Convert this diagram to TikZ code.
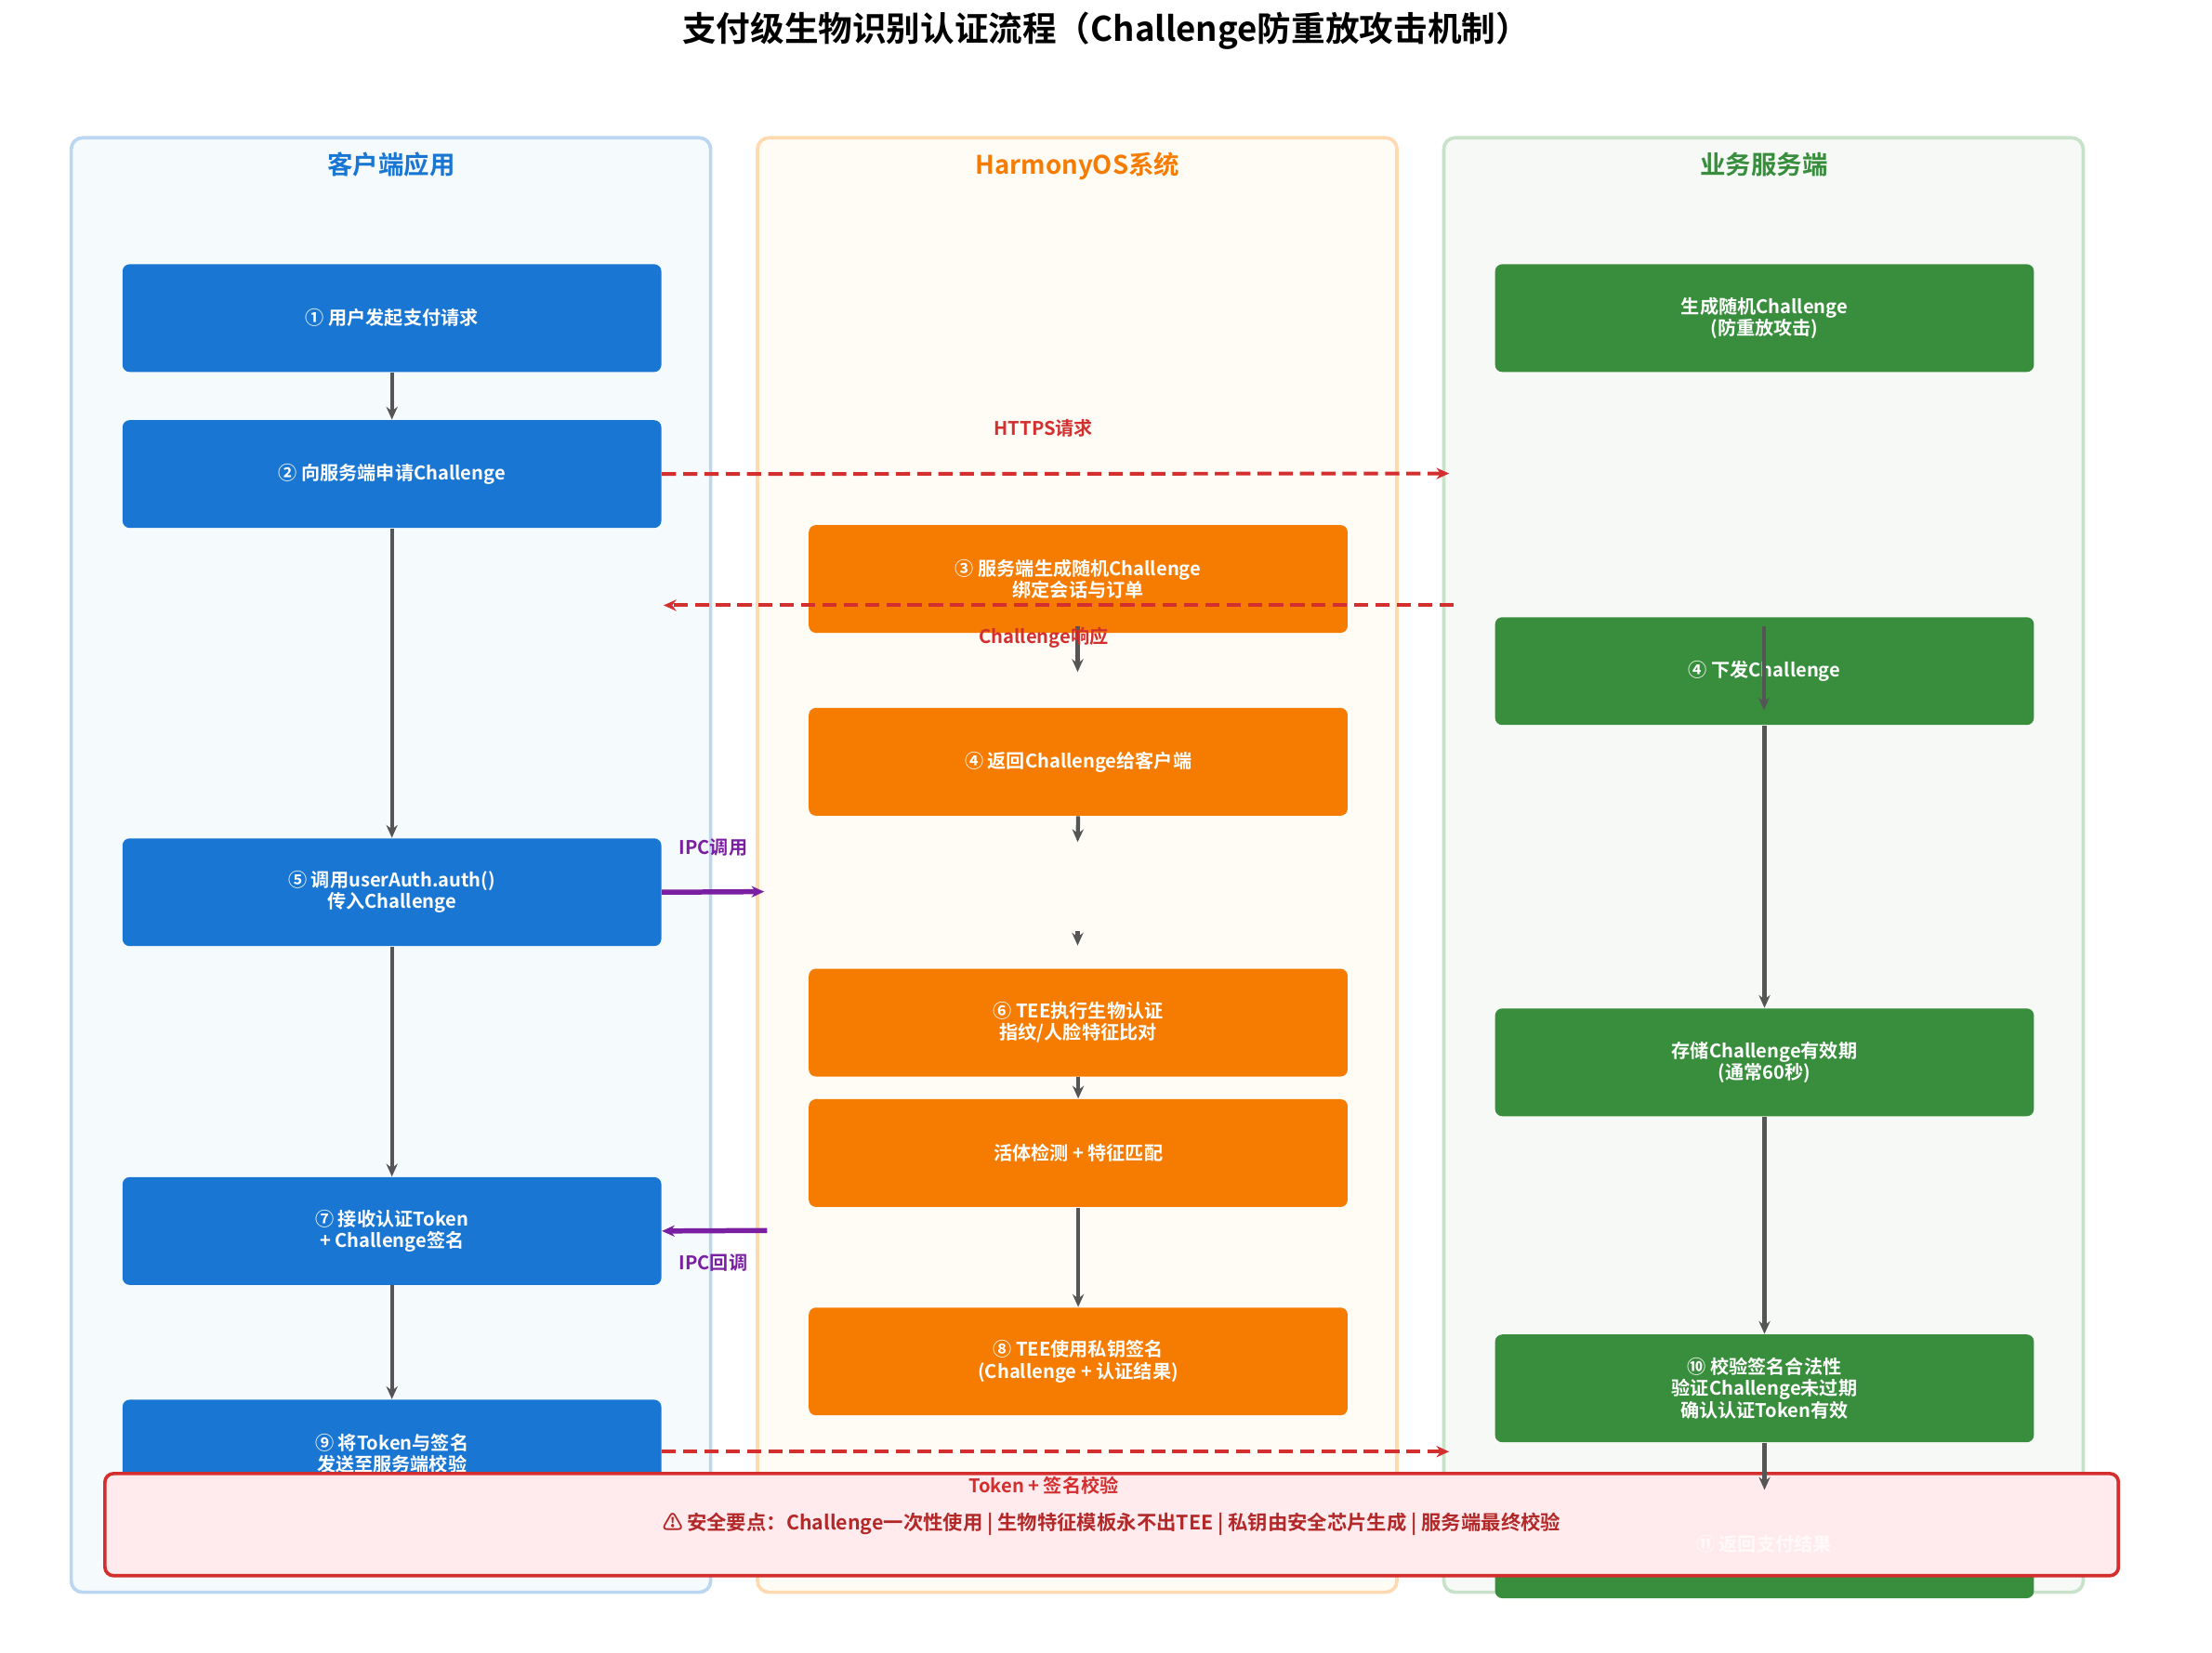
\documentclass[tikz,border=0pt]{standalone}
\usepackage{fontspec}
\setmainfont{Noto Sans CJK SC}[BoldFont={Noto Sans CJK SC Bold}]
\usetikzlibrary{arrows.meta}
\definecolor{cblue}{HTML}{1976D2}
\definecolor{corange}{HTML}{F57C00}
\definecolor{cgreen}{HTML}{388E3C}
\definecolor{cred}{HTML}{D32F2F}
\definecolor{cpurple}{HTML}{7B1FA2}
\definecolor{cgray}{HTML}{555555}
\tikzset{
  lane/.style={draw, line width=1.2pt, rounded corners=4pt, minimum width=225.5pt, minimum height=513pt, anchor=north west},
  stepbox/.style={rounded corners=2.5pt, minimum width=190pt, minimum height=38pt, text=white, font=\bfseries\fontsize{6.6}{7.6}\selectfont, align=center, anchor=north west},
  flow/.style={cgray, line width=1.4pt, -{Stealth[length=4.5pt,width=4pt]}},
  msg/.style={cred, line width=1.3pt, dash pattern=on 5pt off 2.5pt, -{Stealth[length=4.5pt,width=4pt]}},
  ipc/.style={cpurple, line width=1.8pt, -{Stealth[length=4.5pt,width=4pt]}},
  tag/.style={font=\bfseries\fontsize{6.6}{7.6}\selectfont}
}
\begin{document}
\begin{tikzpicture}[x=0.5pt,y=0.5pt,yscale=-1]
\useasboundingbox (0,0) rectangle (1560,1166);
\node[font=\bfseries\fontsize{12}{14}\selectfont] (title) at (780,22) {支付级生物识别认证流程（Challenge防重放攻击机制）};
% lanes
\node[lane, draw={rgb,255:red,187;green,214;blue,240}, fill={rgb,255:red,245;green,250;blue,253}] (client) at (49,96) {};
\node[lane, draw={rgb,255:red,255;green,218;blue,176}, fill={rgb,255:red,255;green,251;blue,245}] (harmony) at (533,96) {};
\node[lane, draw={rgb,255:red,200;green,226;blue,201}, fill={rgb,255:red,247;green,249;blue,247}] (server) at (1017,96) {};
\node[font=\bfseries\fontsize{9}{11}\selectfont, text=cblue] at (276,116) {客户端应用};
\node[font=\bfseries\fontsize{9}{11}\selectfont, text=corange] at (760,117) {HarmonyOS系统};
\node[font=\bfseries\fontsize{9}{11}\selectfont, text=cgreen] at (1244,116) {业务服务端};
% client steps
\node[stepbox, fill=cblue] (c1) at (86,186) {① 用户发起支付请求};
\node[stepbox, fill=cblue] (c2) at (86,296) {② 向服务端申请Challenge};
\node[stepbox, fill=cblue] (c5) at (86,591) {⑤ 调用userAuth.auth()\\传入Challenge};
\node[stepbox, fill=cblue] (c7) at (86,830) {⑦ 接收认证Token\\+ Challenge签名};
\node[stepbox, fill=cblue] (c9) at (86,987) {⑨ 将Token与签名\\发送至服务端校验};
% system steps
\node[stepbox, fill=corange] (h3) at (570,370) {③ 服务端生成随机Challenge\\绑定会话与订单};
\node[stepbox, fill=corange] (h4) at (570,499) {④ 返回Challenge给客户端};
\node[stepbox, fill=corange] (h6) at (570,683) {⑥ TEE执行生物认证\\指纹/人脸特征比对};
\node[stepbox, fill=corange] (hlive) at (570,775) {活体检测 + 特征匹配};
\node[stepbox, fill=corange] (h8) at (570,922) {⑧ TEE使用私钥签名\\(Challenge + 认证结果)};
% server steps
\node[stepbox, fill=cgreen] (sgen) at (1054,186) {生成随机Challenge\\(防重放攻击)};
\node[stepbox, fill=cgreen] (s4) at (1054,435) {④ 下发Challenge};
\node[stepbox, fill=cgreen] (sstore) at (1054,711) {存储Challenge有效期\\(通常60秒)};
\node[stepbox, fill=cgreen] (s10) at (1054,941) {⑩ 校验签名合法性\\验证Challenge未过期\\确认认证Token有效};
\node[stepbox, fill=cgreen] (s11) at (1054,1051) {};
% footer
\node[draw=cred, line width=1.2pt, fill={rgb,255:red,255;green,235;blue,238}, rounded corners=3pt, minimum width=710pt, minimum height=36pt, text=cred!85!black, font=\bfseries\fontsize{7}{8.5}\selectfont] (note) at (784,1075.5) {⚠ 安全要点：Challenge一次性使用 | 生物特征模板永不出TEE | 私钥由安全芯片生成 | 服务端最终校验};
\node[text=white, opacity=0.75, font=\bfseries\fontsize{6.6}{7.6}\selectfont] (s11text) at (1244,1089) {⑪ 返回支付结果};
% client flow
\draw[flow] (c1.south) -- (c2.north);
\draw[flow] (c2.south) -- (c5.north);
\draw[flow] (c5.south) -- (c7.north);
\draw[flow] (c7.south) -- (c9.north);
% system flow
\coordinate (h3a) at (760,442);
\coordinate (h3b) at (760,474);
\coordinate (h4b) at (760,594);
\coordinate (vtop) at (760,657);
\coordinate (vbot) at (760,667);
\draw[flow] (h3a) -- (h3b);
\draw[flow] (h4.south) -- (h4b);
\draw[flow] (vtop) -- (vbot);
\draw[flow] (h6.south) -- (hlive.north);
\draw[flow] (hlive.south) -- (h8.north);
% server flow
\coordinate (sa) at (1244,442);
\coordinate (sb) at (1244,501);
\draw[flow] (sa) -- (sb);
\draw[flow] (s4.south) -- (sstore.north);
\draw[flow] (sstore.south) -- (s10.north);
\draw[flow] (s10.south) -- (s11.north);
% messages
\coordinate (https) at (1022,334);
\coordinate (resp) at (1025,427);
\coordinate (respend) at (468,427);
\coordinate (tok) at (1022,1024);
\coordinate (ipcin) at (539,629);
\coordinate (ipcout) at (541,868);
\draw[msg] (c2.east) -- (https);
\draw[msg] (resp) -- (respend);
\draw[msg] (c9.east |- tok) -- (tok);
\draw[ipc] (c5.east) -- (ipcin);
\draw[ipc] (ipcout) -- (c7.east);
\node[tag, text=cred] (lhttps) at (736,302) {HTTPS请求};
\node[tag, text=cred] (lresp) at (736,450) {Challenge响应};
\node[tag, text=cred] (ltok) at (736,1048) {Token + 签名校验};
\node[tag, text=cpurple] (lipc1) at (503,598) {IPC调用};
\node[tag, text=cpurple] (lipc2) at (503,891) {IPC回调};
\end{tikzpicture}
\end{document}
